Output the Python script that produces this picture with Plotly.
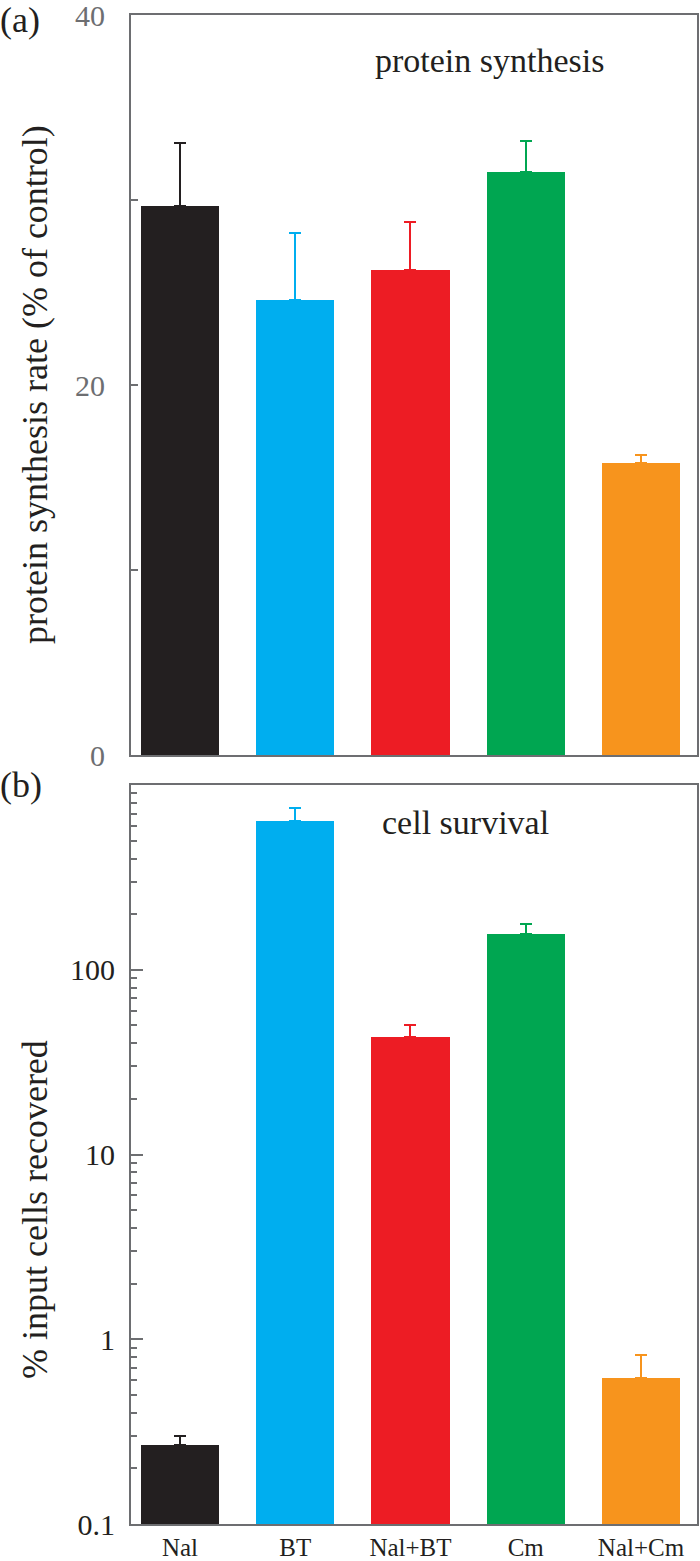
import plotly.graph_objects as go
from plotly.subplots import make_subplots

categories = ["Nal", "BT", "Nal+BT", "Cm", "Nal+Cm"]
colors = ["#231f20", "#00aeef", "#ed1c24", "#00a651", "#f7941d"]

# panel (a): protein synthesis rate (% of control)
synth_mean = [29.7, 24.6, 26.2, 31.5, 15.8]
synth_upper = [33.1, 28.2, 28.8, 33.2, 16.2]

# panel (b): % input cells recovered
surv_mean = [0.267, 640, 43.5, 156, 0.615]
surv_upper = [0.30, 750, 50, 177, 0.82]

W, H = 700, 1561
L, R, T, B = 131, 3, 15, 37
ph = H - T - B

def ypap(px):
    return (H - B - px) / ph

def xpap(px):
    return (px - L) / (W - L - R)

fig = make_subplots(rows=2, cols=1, vertical_spacing=0.02)

for i, c in enumerate(categories):
    fig.add_trace(go.Bar(
        x=[c], y=[synth_mean[i]], marker=dict(color=colors[i], line=dict(width=0)),
        width=0.677,
        error_y=dict(type="data", symmetric=False, array=[synth_upper[i] - synth_mean[i]],
                     arrayminus=[0], color=colors[i], thickness=2, width=6),
        showlegend=False), row=1, col=1)
    fig.add_trace(go.Bar(
        x=[c], y=[surv_mean[i]], marker=dict(color=colors[i], line=dict(width=0)),
        width=0.677,
        error_y=dict(type="data", symmetric=False, array=[surv_upper[i] - surv_mean[i]],
                     arrayminus=[0], color=colors[i], thickness=2, width=6),
        showlegend=False), row=2, col=1)

axcol = "#6d6e71"
font = "Liberation Serif"

fig.update_xaxes(range=[-0.425, 4.486], showline=True, linecolor=axcol, linewidth=2,
                 mirror=True, ticks="", showgrid=False, zeroline=False, automargin=False,
                 categoryorder="array", categoryarray=categories)
fig.update_xaxes(showticklabels=False, row=1, col=1)
fig.update_xaxes(tickfont=dict(family=font, size=25, color="#231f20"),
                 ticklabelstandoff=0, row=2, col=1)

fig.update_yaxes(row=1, col=1, range=[0, 40.0001], tickvals=[0, 10, 20, 30, 40],
                 ticktext=["0", "", "20", "", "40"], ticks="inside", ticklen=7, tickwidth=2,
                 tickcolor=axcol, showline=True, linecolor=axcol, linewidth=2, mirror=True,
                 showgrid=False, zeroline=False, ticklabelstandoff=18, automargin=False,
                 ticklabeloverflow="allow",
                 tickfont=dict(family=font, size=30, color=axcol))

minor_vals = [m * 10.0 ** e for e in range(-1, 3) for m in range(2, 10)]
fig.update_yaxes(row=2, col=1, type="log", range=[-1, 3], tickvals=[0.1, 1, 10, 100],
                 ticktext=["0.1", "1", "10", "100"], ticks="inside", ticklen=12, tickwidth=2,
                 tickcolor=axcol, showline=True, linecolor=axcol, linewidth=2, mirror=True,
                 showgrid=False, zeroline=False, ticklabelstandoff=8, automargin=False,
                 ticklabeloverflow="allow",
                 tickfont=dict(family=font, size=30, color="#231f20"),
                 minor=dict(tickvals=minor_vals, ticks="inside", ticklen=6, tickwidth=2,
                            tickcolor=axcol, showgrid=False))

fig.update_layout(
    width=W, height=H, margin=dict(l=L, r=R, t=T, b=B, autoexpand=False),
    paper_bgcolor="white", plot_bgcolor="white", bargap=0,
    font=dict(family=font, color="#231f20"),
    yaxis=dict(domain=[ypap(755), 1.0]),
    yaxis2=dict(domain=[0.0, ypap(785)]),
)

ann = [
    dict(text="(a)", x=xpap(20), y=ypap(20), size=36),
    dict(text="(b)", x=xpap(21), y=ypap(785), size=36),
    dict(text="protein synthesis", x=xpap(489), y=ypap(60), size=34),
    dict(text="cell survival", x=xpap(465), y=ypap(822), size=34),
]
for a in ann:
    fig.add_annotation(text=a["text"], x=a["x"], y=a["y"], xref="paper", yref="paper",
                       xanchor="center", yanchor="middle", showarrow=False,
                       font=dict(family=font, size=a["size"], color="#231f20"))

for text, yc in [("protein synthesis rate (% of control)", 385),
                 ("% input cells recovered", 1210)]:
    fig.add_annotation(text=text, x=xpap(35), y=ypap(yc), xref="paper", yref="paper",
                       xanchor="center", yanchor="middle", showarrow=False, textangle=-90,
                       font=dict(family=font, size=36, color="#231f20"))

fig.write_html("out.html", config={"displayModeBar": False},
               post_script="document.body.style.margin='0px';document.body.style.overflow='hidden';")
